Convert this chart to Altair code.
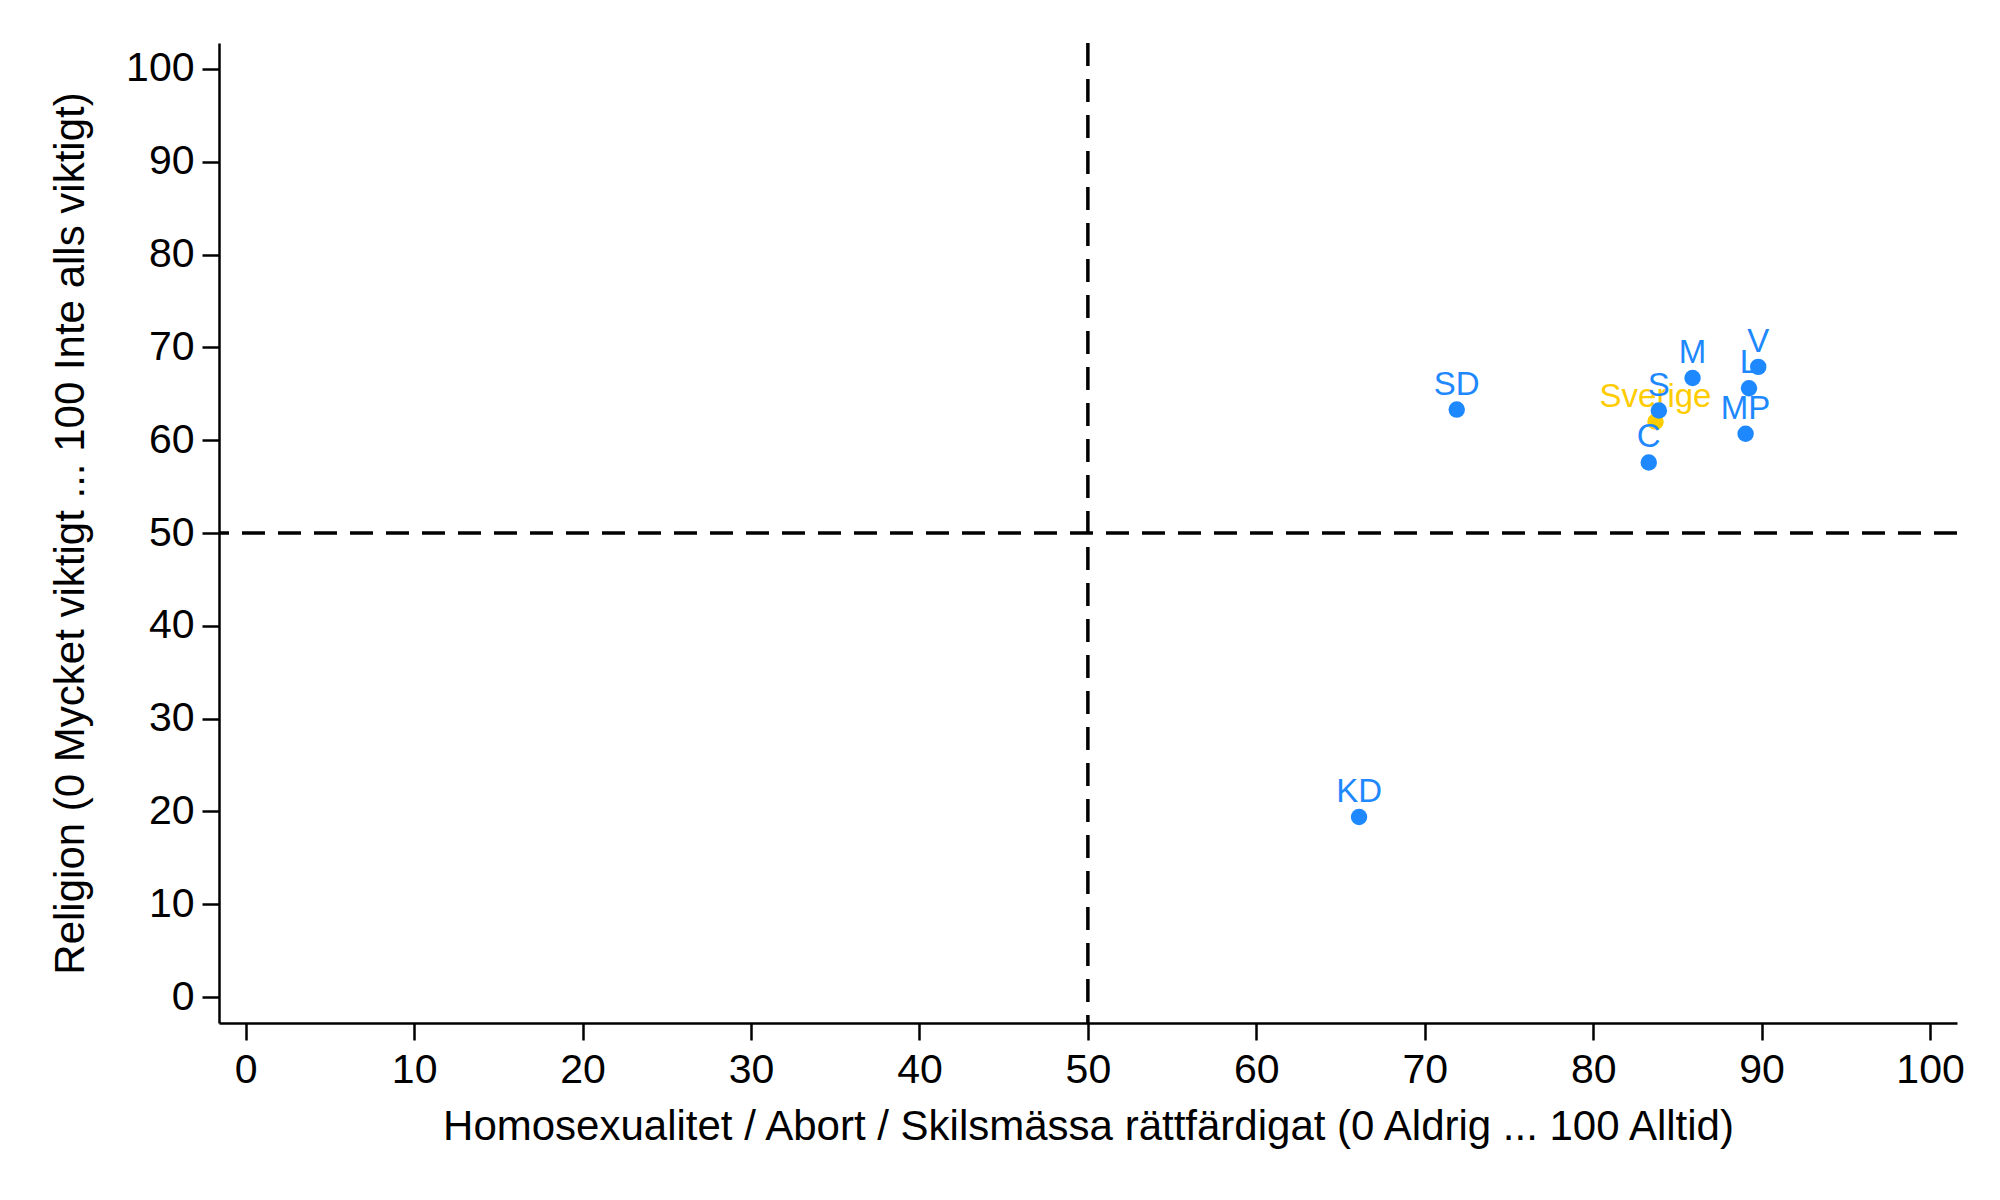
import altair as alt
import pandas as pd

# Party data
parties = ["SD", "KD", "M", "V", "L", "MP", "S", "C"]
liberal_values = [71.9, 66.1, 85.9, 89.8, 89.25, 89.05, 83.9, 83.3]
religion_values = [63.3, 19.4, 66.7, 67.9, 65.6, 60.7, 63.2, 57.6]

# Country average
country = ["Sverige"]
country_x = [83.7]
country_y = [62.0]

ref_x = [50]
ref_y = [50]
tick_values = [0, 10, 20, 30, 40, 50, 60, 70, 80, 90, 100]

BLUE = "#1E88FF"
YELLOW = "#FFCC00"
FONT = "Liberation Sans"

df_p = pd.DataFrame({"label": parties, "x": liberal_values, "y": religion_values})
df_c = pd.DataFrame({"label": country, "x": country_x, "y": country_y})

xscale = alt.Scale(domain=[-1.585, 101.6], nice=False, zero=False)
yscale = alt.Scale(domain=[-2.8, 102.8], nice=False, zero=False)

xaxis = alt.Axis(
    values=tick_values, grid=False, tickSize=17, tickWidth=2.5, domainWidth=2.5,
    domainColor="black", tickColor="black", labelColor="black",
    labelFontSize=41, labelFont=FONT, labelPadding=10,
    title="Homosexualitet / Abort / Skilsmässa rättfärdigat (0 Aldrig ... 100 Alltid)",
    titleFont=FONT, titleFontSize=42, titleFontWeight="normal", titleColor="black",
    titleX=869, titleY=116, titleBaseline="alphabetic", titleAlign="center",
)
yaxis = alt.Axis(
    values=tick_values, grid=False, tickSize=17, tickWidth=2.5, domainWidth=2.5,
    domainColor="black", tickColor="black", labelColor="black",
    labelFontSize=41, labelFont=FONT, labelPadding=8,
    title="Religion (0 Mycket viktigt ... 100 Inte alls viktigt)",
    titleFont=FONT, titleFontSize=42, titleFontWeight="normal", titleColor="black",
    titleX=-136, titleY=490, titleAngle=-90, titleBaseline="alphabetic", titleAlign="center",
)

base_c = alt.Chart(df_c).encode(
    x=alt.X("x:Q", scale=xscale, axis=xaxis),
    y=alt.Y("y:Q", scale=yscale, axis=yaxis),
)
base_p = alt.Chart(df_p).encode(
    x=alt.X("x:Q", scale=xscale),
    y=alt.Y("y:Q", scale=yscale),
)

vline = alt.Chart(pd.DataFrame({"v": ref_x})).mark_rule(
    color="black", strokeWidth=3.5, strokeDash=[23, 13]
).encode(x=alt.X("v:Q", scale=xscale))
hline = alt.Chart(pd.DataFrame({"v": ref_y})).mark_rule(
    color="black", strokeWidth=3.5, strokeDash=[23, 13]
).encode(y=alt.Y("v:Q", scale=yscale))

c_pts = base_c.mark_circle(size=270, opacity=1, color=YELLOW)
c_txt = base_c.mark_text(
    dy=-15, baseline="alphabetic", align="center", fontSize=33, font=FONT, color=YELLOW
).encode(text="label:N")
p_pts = base_p.mark_circle(size=270, opacity=1, color=BLUE)
p_txt = base_p.mark_text(
    dy=-15, baseline="alphabetic", align="center", fontSize=33, font=FONT, color=BLUE
).encode(text="label:N")

chart = alt.layer(c_pts, c_txt, vline, hline, p_pts, p_txt).properties(
    width=1738, height=980,
    autosize=alt.AutoSizeParams(type="none"),
    padding={"left": 211, "top": 35, "right": 30, "bottom": 150},
    background="white",
).configure_view(stroke=None)

chart.save("out.html", embed_options={"renderer": "svg", "actions": False})
